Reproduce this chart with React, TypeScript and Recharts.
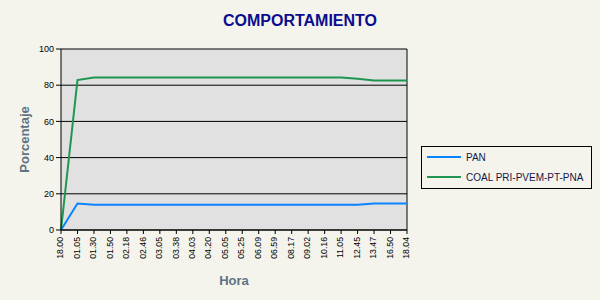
import {
  LineChart,
  Line,
  XAxis,
  YAxis,
  CartesianGrid,
  Legend,
  Label,
  ReferenceLine,
} from "recharts";

const FONT = "Arial, 'Liberation Sans', sans-serif";

const horas = [
  "18.00", "01.05", "01.30", "01.50", "02.18", "02.46", "03.05", "03.38",
  "04.03", "04.20", "05.05", "05.25", "06.09", "06.59", "08.17", "09.02",
  "10.16", "11.05", "12.45", "13.47", "16.50", "18.04",
];

const pan = [
  0, 14.6, 14, 14, 14, 14, 14, 14, 14, 14, 14, 14, 14, 14, 14, 14,
  14, 14, 14, 14.6, 14.6, 14.6,
];

const coal = [
  0, 82.8, 84.3, 84.3, 84.3, 84.3, 84.3, 84.3, 84.3, 84.3, 84.3, 84.3,
  84.3, 84.3, 84.3, 84.3, 84.3, 84.3, 83.6, 82.6, 82.6, 82.6,
];

const yTicks = [0, 20, 40, 60, 80, 100];

const series = [
  { key: "pan", name: "PAN", color: "#0A84FF" },
  { key: "coal", name: "COAL PRI-PVEM-PT-PNA", color: "#1E9650" },
];

const data = horas.map((hora, i) => ({ hora, pan: pan[i], coal: coal[i] }));

// vertical time labels under the axis, reading bottom-to-top
const HoraTick = ({ x, y, payload }: any) => (
  <text
    transform={`translate(${x},${y + 3}) rotate(-90)`}
    textAnchor="end"
    dy="0.25em"
    fontSize={8.7}
    fontFamily={FONT}
    fill="#000"
  >
    {payload.value}
  </text>
);

const LegendBox = () => (
  <div
    style={{
      width: 169,
      height: 41,
      border: "1px solid #000",
      fontFamily: FONT,
      fontSize: 10,
      color: "#14144a",
      boxSizing: "content-box",
    }}
  >
    {series.map((s, i) => (
      <div
        key={s.key}
        style={{
          position: "absolute",
          left: 6,
          top: 5 + i * 20,
          display: "flex",
          alignItems: "center",
          height: 12,
          whiteSpace: "nowrap",
        }}
      >
        <span
          style={{ display: "inline-block", width: 34, height: 2, background: s.color, marginRight: 5 }}
        />
        <span>{s.name}</span>
      </div>
    ))}
  </div>
);

export default function App() {
  return (
    <div style={{ width: 600, height: 300, background: "#F4F4EC", position: "relative" }}>
      <style>{"body{margin:0;background:#F4F4EC}"}</style>
      <svg width={600} height={30} style={{ position: "absolute", left: 0, top: 0 }}>
        <text x={300} y={26} textAnchor="middle" fontFamily={FONT} fontWeight="bold" fontSize={16} fill="#0C0C8E">
          COMPORTAMIENTO
        </text>
      </svg>
      <LineChart
        width={600}
        height={300}
        data={data}
        margin={{ top: 49, right: 193, left: 0, bottom: 0 }}
        style={{ position: "absolute", left: 0, top: 0 }}
      >
        <CartesianGrid
          vertical={false}
          stroke="#000"
          fill="#E1E1E1"
          fillOpacity={1}
        />
        <XAxis
          dataKey="hora"
          interval={0}
          height={70}
          tick={<HoraTick />}
          tickSize={4}
          tickMargin={0}
          tickLine={{ stroke: "#000" }}
          axisLine={{ stroke: "#000" }}
        >
          <Label
            content={({ viewBox }: any) => (
              <text
                x={viewBox.x + viewBox.width / 2}
                y={285}
                textAnchor="middle"
                fontFamily={FONT}
                fontWeight="bold"
                fontSize={13}
                fill="#5E7384"
              >
                Hora
              </text>
            )}
          />
        </XAxis>
        <YAxis
          width={61}
          domain={[0, 100]}
          ticks={yTicks}
          tickSize={5}
          tickMargin={2}
          tick={{ fontSize: 9, fill: "#000", fontFamily: FONT }}
          tickLine={{ stroke: "#000" }}
          axisLine={{ stroke: "#000" }}
        >
          <Label
            content={({ viewBox }: any) => (
              <text
                transform={`translate(24,${viewBox.y + viewBox.height / 2}) rotate(-90)`}
                textAnchor="middle"
                dy="0.35em"
                fontFamily={FONT}
                fontWeight="bold"
                fontSize={13}
                fill="#5E7384"
              >
                Porcentaje
              </text>
            )}
          />
        </YAxis>
        <ReferenceLine x="18.04" stroke="#000" />
        <Legend
          layout="horizontal"
          verticalAlign="middle"
          content={<LegendBox />}
          wrapperStyle={{ left: 421, top: 146, width: 171 }}
        />
        {series.map((s) => (
          <Line
            key={s.key}
            type="linear"
            dataKey={s.key}
            name={s.name}
            stroke={s.color}
            strokeWidth={2}
            dot={false}
            activeDot={false}
            isAnimationActive={false}
          />
        ))}
      </LineChart>
    </div>
  );
}
